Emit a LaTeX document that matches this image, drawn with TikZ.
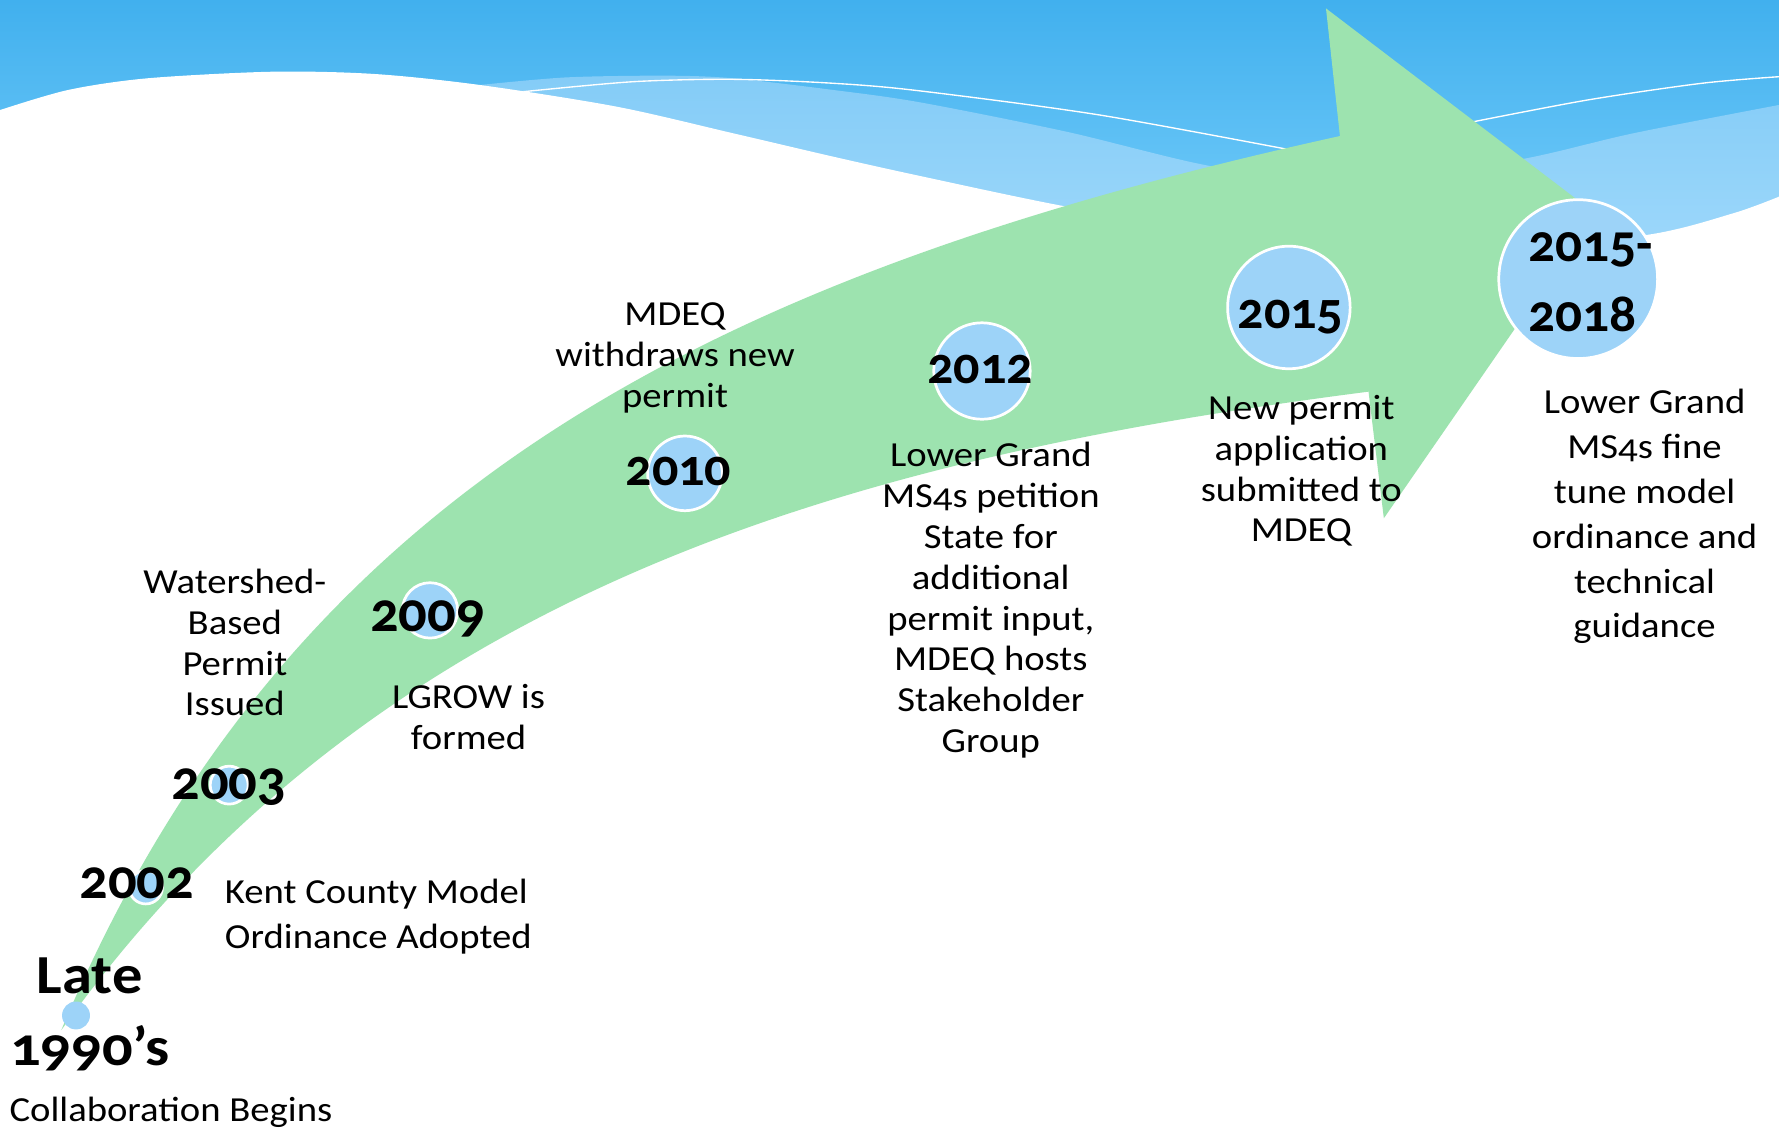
\documentclass[tikz,border=0pt]{standalone}
\usepackage{fontspec}
\setmainfont{Carlito}[Numbers=OldStyle]
\newfontfamily\widefont{Carlito}[Numbers=OldStyle,FakeStretch=1.1]
\definecolor{arrowgreen}{RGB}{157,227,175}
\definecolor{dotblue}{RGB}{157,211,248}
\definecolor{skytop}{RGB}{65,176,238}
\definecolor{skybot}{RGB}{121,207,251}
\definecolor{bandtop}{RGB}{132,204,247}
\definecolor{bandbot}{RGB}{160,217,251}
\newcommand{\mylines}[2]{\begin{tabular}[t]{@{}#1@{}}#2\end{tabular}}
\begin{document}
\begin{tikzpicture}[x=1pt,y=-1pt,
  every node/.style={inner sep=0pt,outer sep=0pt},
  yeardot/.style={circle,fill=dotblue,draw=white,line width=2.4pt,minimum size=#1},
  plaindot/.style={circle,fill=dotblue,minimum size=#1},
  bodytext/.style={font=\widefont\fontsize{31}{36}\selectfont,anchor=base},
  bodywide/.style={font=\widefont\fontsize{31}{39.6}\selectfont,anchor=base},
  yearbig/.style={font=\bfseries\fontsize{50}{55}\selectfont,anchor=base},
  yearmid/.style={font=\bfseries\fontsize{46}{50}\selectfont,anchor=base},
  yearlate/.style={font=\widefont\bfseries\fontsize{48.5}{63.2}\selectfont,anchor=base},
  yearend/.style={font=\bfseries\fontsize{47}{61.7}\selectfont,anchor=base west},
  wline/.style={draw=white,line width=1.2pt}
]
\useasboundingbox (0,0) rectangle (1568,997);
% sky
\shade[top color=skytop,bottom color=skybot] (0,0) rectangle (1568,240);
% light band
\shade[top color=bandtop,bottom color=bandbot]
  plot[smooth] coordinates {(423,74.9) (499.4,68.2) (587.6,66.7) (646.3,69) (734.5,79.3) (810.9,90.2) (940.1,116.1) (1066.4,146.3) (1200,165) (1345.5,139.5) (1439.5,117.5) (1568,92.5)}
  -- (1568,240) -- (423,240) -- cycle;
% white wave
\fill[white]
  plot[smooth] coordinates {(0,97) (60,79.3) (130,69) (240,63.2) (330,65.2) (423,74.9) (543.5,94) (646.3,117.5) (734.5,138.1) (810.9,155.1) (937.2,181.6) (1100,210) (1300,222) (1451.3,207.1) (1527.6,188) (1568,173.3)}
  -- (1568,997) -- (0,997) -- cycle;
% thin white lines
\draw[wline] plot[smooth] coordinates {(461.3,80.8) (558.2,72) (646.3,69.9) (734.5,73.4) (810,80) (969.5,101.4) (1150,134.5)};
\draw[wline] plot[smooth] coordinates {(1295,108) (1400,88) (1500,73.4) (1568,67.6)};
% arrow
\fill[arrowgreen] (54,908) .. controls (254,430) and (631,241) .. (1181,119.9)
  -- (1168.7,7.4) -- (1405.6,187.8) -- (1219.7,456.8) -- (1206.2,345.2)
  .. controls (756,403) and (334,516) .. (54,908) -- cycle;
% dots
\node[plaindot=24.6pt] (dlate) at (67,895) {};
\node[yeardot=29.4pt] (d2002) at (128.5,782) {};
\node[yeardot=33.4pt] (d2003) at (202,692) {};
\node[yeardot=48.8pt] (d2009) at (379,538) {};
\node[yeardot=65.8pt] (d2010) at (603.7,417.2) {};
\node[yeardot=85pt] (d2012) at (865.5,327) {};
\node[yeardot=108pt] (d2015) at (1136,271) {};
\node[yeardot=140pt] (d2018) at (1391,246) {};
% texts
\node[yearlate] (tlate) at (79,875.5) {\mylines{c}{Late\\1990’s}};
\node[bodytext,anchor=base west] (tcollab) at (8.4,988.6) {Collaboration Begins};
\node[yearbig] (t2002) at (120.6,791.8) {2002};
\node[bodywide,anchor=base west] (tkent) at (198.3,796.2) {\mylines{l}{Kent County Model\\Ordinance Adopted}};
\node[yearbig] (t2003) at (201.7,704.5) {2003};
\node[bodytext] (twater) at (207,523) {\mylines{c}{Watershed-\\Based\\Permit\\Issued}};
\node[yearbig] (t2009) at (377,556.7) {2009};
\node[bodytext] (tlgrow) at (413,624.3) {\mylines{c}{LGROW is\\formed}};
\node[bodytext] (tmdeq) at (595,287.3) {\mylines{c}{MDEQ\\withdraws new\\permit}};
\node[yearmid] (t2010) at (598,427.5) {2010};
\node[yearmid] (t2012) at (863.8,337.9) {2012};
\node[bodytext] (tlower) at (873.3,411.3) {\mylines{c}{Lower Grand\\MS4s petition\\State for\\additional\\permit input,\\MDEQ hosts\\Stakeholder\\Group}};
\node[yearmid] (t2015) at (1137.4,289.4) {2015};
\node[bodytext] (tnew) at (1147,369.6) {\mylines{c}{New permit\\application\\submitted to\\MDEQ}};
\node[yearend] (t2018) at (1347.3,230.6) {\mylines{l}{2015-\\2018}};
\node[bodywide] (tfine) at (1449.5,364.3) {\mylines{c}{Lower Grand\\MS4s fine\\tune model\\ordinance and\\technical\\guidance}};
\end{tikzpicture}
\end{document}
